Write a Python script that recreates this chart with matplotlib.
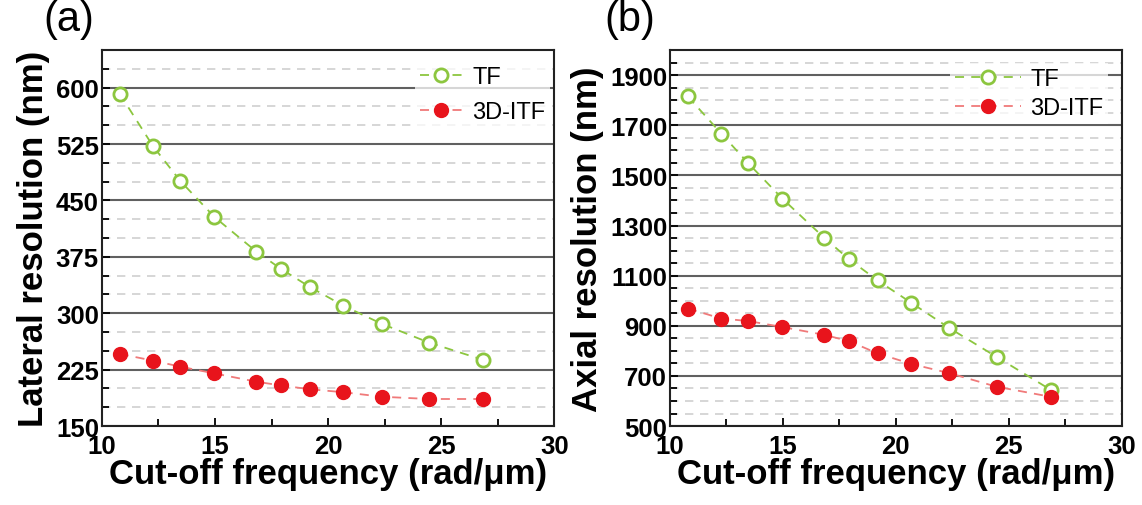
import matplotlib
matplotlib.use("Agg")
import matplotlib.pyplot as plt
from matplotlib.ticker import MultipleLocator

plt.rcParams['font.family'] = ['Liberation Sans', 'DejaVu Sans']

freq = [10.79, 12.27, 13.47, 14.98, 16.83, 17.92, 19.19, 20.68, 22.37, 24.46, 26.85]
lat_tf = [592, 522, 476, 428, 382, 359, 335, 310, 286, 261, 238]
lat_itf = [246, 237, 229, 220, 209, 204, 199, 195, 189, 186, 186]
ax_tf = [1815, 1667, 1548, 1407, 1251, 1166, 1081, 992, 891, 776, 645]
ax_itf = [969, 929, 919, 895, 864, 839, 790, 748, 711, 657, 617]

GREEN = '#8cc63f'
RED = '#e8141c'
RED_LINE = '#f07a7a'

fig = plt.figure(figsize=(11.42, 5.06), dpi=100)
axA = fig.add_axes([0.0891, 0.156, 0.3964, 0.743])
axB = fig.add_axes([0.5867, 0.156, 0.3955, 0.743])


def style(ax, ylim, major, offset, minor, ylabel, letter, letter_x):
    ax.set_xlim(10, 30)
    ax.set_ylim(*ylim)
    ax.xaxis.set_major_locator(MultipleLocator(5))
    ax.xaxis.set_minor_locator(MultipleLocator(2.5))
    ax.yaxis.set_major_locator(MultipleLocator(major, offset=offset))
    ax.yaxis.set_minor_locator(MultipleLocator(minor))
    ax.grid(which='major', axis='y', color='#606060', lw=1.5, ls='-')
    ax.grid(which='minor', axis='y', color='#cfcfcf', lw=1.2, ls=(0, (5, 4)))
    ax.set_axisbelow(True)
    ax.tick_params(which='both', direction='in', length=5, width=1.3,
                   labelsize=18.5, pad=2)
    ax.tick_params(axis='x', which='major', pad=6)
    ax.tick_params(which='major', length=6)
    for lab in ax.get_xticklabels() + ax.get_yticklabels():
        lab.set_fontweight('bold')
    for s in ax.spines.values():
        s.set_linewidth(1.5)
        s.set_color('#222222')
    ax.set_xlabel('Cut-off frequency (rad/\u03bcm)', fontsize=25, fontweight='bold', labelpad=-1)
    ax.set_ylabel(ylabel, fontsize=25, fontweight='bold', labelpad=4)
    ax.text(letter_x, 1.135, letter, transform=ax.transAxes, fontsize=30,
            ha='left', va='top')


def plot_series(ax, tf, itf, hl, ls, anchor):
    ax.plot(freq, tf, ls=(0, (5, 4)), color=GREEN, lw=1.3, marker='o',
            mfc='white', mec=GREEN, mew=2, ms=9.5, label='TF')
    ax.plot(freq, itf, ls=(0, (5, 4)), color=RED_LINE, lw=1.3, marker='o',
            mfc=RED, mec=RED, ms=10, label='3D-ITF')
    for line in ax.get_lines():
        line.set_zorder(3)
    leg = ax.legend(loc='upper right', bbox_to_anchor=anchor, fontsize=17,
                    frameon=True, framealpha=0.75, edgecolor='none', fancybox=False,
                    borderaxespad=0.0, borderpad=0.2,
                    handlelength=hl, handletextpad=0.4, labelspacing=ls)
    leg.get_frame().set_facecolor('white')


style(axA, (150, 650), 75, 0, 25, 'Lateral resolution (nm)', '(a)', -0.13)
plot_series(axA, lat_tf, lat_itf, 1.8, 0.55, (0.99, 0.97))
style(axB, (500, 2000), 200, 100, 50, 'Axial resolution (nm)', '(b)', -0.145)
plot_series(axB, ax_tf, ax_itf, 2.8, 0.3, (0.97, 0.965))

fig.savefig('out.png', dpi=100)
